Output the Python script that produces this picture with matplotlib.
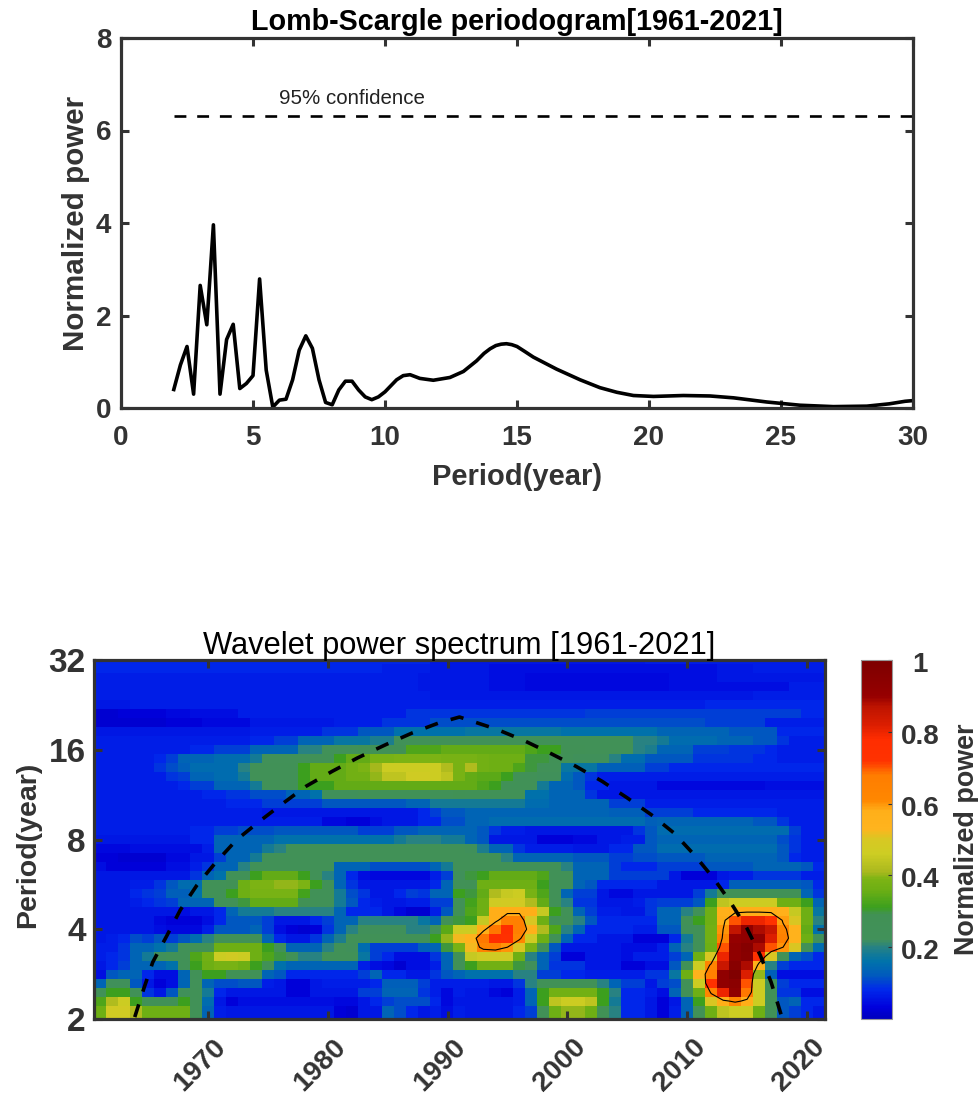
import numpy as np
import matplotlib
matplotlib.use('Agg')
import matplotlib.pyplot as plt
from matplotlib.colors import LinearSegmentedColormap
from matplotlib.transforms import ScaledTranslation

plt.rcParams['font.family'] = ['Liberation Sans', 'DejaVu Sans']

# Lomb-Scargle periodogram
ls_period = [2.0, 2.25, 2.5, 2.75, 3.0, 3.25, 3.5, 3.75, 4.0, 4.25, 4.5, 4.75, 5.0, 5.25, 5.5, 5.75, 6.0, 6.25,
             6.5, 6.75, 7.0, 7.25, 7.5, 7.75, 8.0, 8.25, 8.5, 8.75, 9.0, 9.25, 9.5, 9.75, 10.0, 10.44, 10.69, 10.95,
             11.32, 11.83, 12.46, 12.97, 13.47, 13.75, 13.98, 14.2, 14.4, 14.6, 14.8, 15.0, 15.3, 15.62, 16.5, 17.39,
             18.14, 18.78, 19.41, 20.17, 21.3, 22.31, 23.2, 24.46, 25.72, 26.98, 28.25, 29.1, 29.7, 30.0]
ls_power = [0.40, 0.93, 1.33, 0.30, 2.65, 1.80, 3.96, 0.30, 1.48, 1.81, 0.42, 0.53, 0.70, 2.79, 0.82, 0.02, 0.17, 0.19,
            0.61, 1.25, 1.56, 1.29, 0.61, 0.12, 0.07, 0.39, 0.58, 0.58, 0.39, 0.24, 0.18, 0.24, 0.35, 0.61, 0.70, 0.72,
            0.64, 0.60, 0.66, 0.79, 1.02, 1.18, 1.28, 1.35, 1.38, 1.39, 1.37, 1.33, 1.22, 1.10, 0.84, 0.61,
            0.44, 0.34, 0.27, 0.25, 0.27, 0.26, 0.22, 0.13, 0.06, 0.03, 0.04, 0.09, 0.145, 0.16]
conf_period = [2, 30]
conf_power = [6.32, 6.32]

# cone of influence
coi_year = [1963.9, 1964.6, 1965.4, 1966.6, 1967.7, 1969.1, 1970.6, 1972.4, 1974.3, 1976.3, 1978.2, 1980.4, 1982.5,
            1984.9, 1987.1, 1989.3, 1991.0, 1994.1, 1996.3, 1998.5, 2000.7, 2002.9, 2005.0, 2007.0, 2008.9, 2010.6,
            2012.2, 2013.6, 2015.0, 2016.1, 2017.0, 2017.9]
coi_period = [2.03, 2.49, 3.10, 3.82, 4.64, 5.63, 6.66, 7.98, 9.20, 10.6, 12.07, 13.56, 15.03,
              16.68, 18.25, 19.7, 20.6, 18.74, 17.24, 15.63, 14.09, 12.54, 11.03, 9.69, 8.41, 7.10,
              5.93, 4.94, 4.02, 3.27, 2.66, 2.03]

# wavelet power x100, one row per scale from period 32 down to 2, one column per year 1961-2021
wavelet = [
    [8,8,8,8,8,8,8,8,8,8, 8,8,8,8,8,8,8,8,8,8, 8,8,8,8,8,8,8,8,6,6, 6,6,6,6,6,6,6,6,6,6, 6,6,6,6,6,6,7,7,7,7, 7,7,7,7,7,7,7,7,7,7,7],
    [8,8,8,8,8,8,8,8,8,8, 8,8,8,8,8,8,8,8,8,8, 8,8,8,8,7,7,7,7,6,6, 6,6,6,5,5,5,5,5,5,5, 5,5,5,5,5,5,5,5,5,5, 5,5,6,6,6,7,7,7,7,7,7],
    [7,7,7,7,7,7,7,7,7,7, 7,7,7,7,7,7,7,7,7,7, 7,7,7,7,7,7,7,6,6,6, 6,6,6,5,5,5,4,4,4,4, 4,4,4,4,4,4,4,4,5,5, 5,5,6,6,6,6,6,6,6,6,6],
    [7,7,7,7,7,7,7,7,7,7, 7,7,7,7,7,7,7,7,7,7, 7,7,7,7,7,7,7,6,6,6, 6,6,6,5,5,5,4,4,4,4, 4,4,4,4,4,4,4,4,5,5, 5,5,5,5,5,5,5,5,7,7,7],
    [7,7,7,7,7,7,7,7,7,7, 7,7,7,7,7,7,7,7,7,7, 7,7,7,7,7,7,7,7,6,6, 6,6,6,6,6,6,6,6,6,6, 6,6,6,6,6,6,6,6,6,6, 6,6,6,6,6,7,7,7,7,7,7],
    [6,6,6,7,7,7,7,7,7,7, 7,7,7,7,7,7,7,7,7,7, 7,7,7,7,7,7,7,7,7,7, 7,7,7,7,7,7,7,7,7,7, 7,7,7,7,7,7,7,7,7,7, 7,8,8,8,8,8,8,8,8,8,8],
    [2,2,3,3,3,3,4,4,5,5, 5,5,7,7,7,7,7,7,7,7, 7,7,7,7,7,7,9,9,9,9, 9,9,9,9,9,9,9,9,9,9, 9,10,10,10,10,10,10,10,10,10, 10,10,10,10,10,10,10,10,10,8,8],
    [2,2,2,2,2,2,3,3,3,4, 4,4,4,6,6,6,6,6,6,6, 7,7,7,7,9,9,9,9,11,11, 11,11,11,11,11,11,11,11,11,11, 11,11,11,11,11,11,11,11,11,11, 11,10,10,10,10,10,7,7,7,7,7],
    [6,6,6,6,6,6,6,6,6,6, 6,6,6,7,7,7,7,7,7,9, 9,9,12,12,12,16,16,16,16,16, 16,17,17,17,17,17,17,17,17,16, 16,16,16,16,16,16,16,14,14,14, 14,14,14,12,12,12,12,8,8,8,8],
    [7,7,7,7,7,7,7,7,7,7, 7,7,7,8,8,10,10,14,14,14, 17,17,17,19,19,24,24,24,25,25, 25,25,25,25,25,25,25,25,25,25, 25,25,25,25,25,20,20,18,15,15, 15,15,14,14,14,12,12,9,7,7,7],
    [7,7,7,7,7,7,7,7,8,8, 10,10,10,14,14,14,14,20,20,24, 24,24,27,27,27,28,33,33,33,35, 35,35,35,35,35,35,33,31,31,27, 27,25,25,25,25,20,19,14,14,14, 10,10,10,9,9,9,8,7,7,7,7],
    [7,7,7,7,7,8,10,14,14,14, 15,15,15,18,24,24,24,24,25,25, 31,35,35,38,38,39,39,39,39,38, 38,38,37,36,36,36,30,30,25,25, 22,22,22,20,15,15,12,12,12,12, 9,9,9,9,9,8,8,7,7,7,7],
    [7,7,7,7,7,9,11,13,15,15, 15,15,20,25,25,25,25,31,35,35, 35,37,39,41,46,46,46,46,46,42, 38,42,37,36,36,33,30,24,24,17, 17,17,13,13,13,13,10,10,8,8, 8,8,8,8,8,8,8,8,8,8,8],
    [7,7,7,7,7,7,9,10,14,14, 15,15,18,25,25,25,25,31,35,35, 35,37,37,40,44,44,47,47,46,44, 38,35,34,34,31,25,25,22,22,15, 12,9,7,7,7,7,7,7,7,7, 7,7,7,7,7,7,7,7,7,7,7],
    [7,7,7,7,7,7,7,8,10,10, 14,14,14,18,25,25,25,31,31,31, 35,35,35,35,35,35,35,35,35,35, 35,35,33,31,25,25,25,18,14,14, 12,8,8,6,6,6,6,4,4,4, 4,4,4,4,4,4,5,5,5,5,5],
    [7,7,7,7,7,7,7,7,7,8, 8,9,9,11,11,11,14,14,16,22, 22,22,25,25,25,25,25,25,25,25, 28,27,27,25,25,25,16,16,14,14, 14,9,6,6,6,6,6,6,6,6, 6,6,6,6,6,6,6,6,6,6,6],
    [7,7,7,7,7,7,7,7,7,7, 7,8,8,8,10,10,10,10,10,12, 12,12,12,12,12,12,14,14,18,18, 18,18,18,18,18,18,15,15,14,14, 14,14,14,10,10,10,7,7,7,7, 7,7,7,7,7,7,7,7,7,7,7],
    [7,7,7,7,7,7,7,7,7,7, 7,7,7,7,6,6,6,6,6,6, 6,6,6,6,6,6,6,8,10,12, 12,14,14,14,14,14,14,14,14,14, 14,14,14,13,13,13,10,10,10,10, 8,8,8,8,8,8,8,7,7,7,7],
    [7,7,7,7,7,7,7,7,7,7, 7,7,7,7,7,7,7,7,7,4, 4,3,3,5,6,6,6,8,8,11, 11,14,14,15,15,15,15,15,15,15, 15,15,15,15,15,15,13,14,14,14, 14,14,14,14,14,12,12,9,7,7,7],
    [7,7,7,7,7,7,7,7,8,8, 10,10,11,11,11,12,12,12,12,12, 12,12,10,10,10,12,12,14,14,14, 14,14,12,9,7,7,6,6,6,6, 6,6,6,6,6,9,12,15,15,15, 15,15,15,15,15,15,15,15,10,7,7],
    [6,6,6,6,6,6,6,6,8,8, 14,14,14,14,14,16,16,16,16,16, 16,16,16,16,16,18,20,20,20,18, 18,14,12,6,6,6,6,3,3,3, 4,4,6,6,7,7,12,14,14,14, 14,14,14,14,14,14,14,11,9,7,7],
    [4,4,4,5,5,5,5,5,5,7, 14,14,14,14,18,20,25,25,25,25, 25,25,25,25,25,25,25,25,25,25, 25,22,19,14,14,9,7,7,7,7, 6,6,6,8,8,12,12,15,15,15, 15,15,15,15,15,15,15,12,9,7,7],
    [3,3,2,2,2,2,4,4,6,6, 10,14,14,18,25,25,25,25,25,25, 25,25,25,25,25,25,25,25,25,25, 25,25,25,25,20,14,14,14,14,14, 12,12,12,10,10,11,11,12,12,12, 12,14,14,14,14,14,14,12,8,7,7],
    [5,3,3,3,3,3,5,5,7,9, 14,14,20,25,25,25,25,25,25,25, 14,14,14,11,11,11,11,11,14,18, 25,25,25,25,25,25,25,25,25,20, 14,14,14,10,8,8,8,10,10,10, 10,12,12,12,12,14,14,14,14,12,8],
    [6,6,6,6,6,6,6,6,9,14, 16,25,25,31,35,35,35,31,25,20, 14,8,5,4,4,4,4,4,7,10, 22,30,31,35,35,35,35,33,25,25, 14,14,14,10,10,10,10,10,6,3, 3,3,6,7,7,9,9,9,9,7,7],
    [6,6,6,7,7,9,12,15,15,25, 25,28,36,39,39,40,40,39,31,25, 14,9,6,6,6,6,6,6,8,14, 25,27,36,36,36,36,36,31,25,25, 14,12,8,8,8,8,8,6,6,6, 6,6,8,13,13,13,13,13,13,12,8],
    [6,6,6,8,9,10,13,13,16,25, 25,31,36,38,38,38,38,32,25,25, 18,11,9,6,6,8,10,9,14,14, 31,30,35,42,45,46,38,33,25,14, 10,10,6,4,4,6,6,6,6,6, 10,18,25,25,25,25,25,25,25,14,9],
    [6,6,6,7,8,9,10,14,14,14, 25,25,30,35,35,35,35,28,25,25, 18,12,8,7,6,6,7,7,10,10, 25,32,36,47,48,48,42,35,25,20, 9,9,6,6,6,7,9,10,10,10, 12,31,44,46,46,46,46,36,36,31,14],
    [6,6,6,6,6,6,6,5,6,6, 8,14,18,18,18,20,20,20,20,20, 14,8,8,8,6,4,2,2,7,12, 28,33,36,58,58,58,58,45,31,25, 14,10,7,7,6,6,9,14,14,20, 25,36,56,58,58,58,58,56,45,36,17],
    [6,6,6,6,6,4,3,3,3,5, 8,12,12,12,10,6,6,6,8,10, 14,14,20,20,20,20,20,17,14,25, 30,31,45,58,66,66,50,36,27,27, 20,12,8,8,8,8,8,14,14,25, 31,36,58,70,80,80,72,59,50,36,20],
    [6,6,6,6,6,5,4,4,4,7, 12,12,12,14,10,5,3,2,3,9, 14,20,22,22,22,22,20,20,25,34, 46,46,58,68,76,66,56,42,33,20, 14,8,8,8,8,7,7,12,12,22, 25,37,60,86,92,88,85,62,55,35,16],
    [6,7,8,11,10,12,10,12,15,20, 25,25,25,25,14,8,6,6,9,14, 19,25,25,25,25,25,25,25,31,40, 52,55,68,76,74,62,47,36,25,14, 8,8,6,6,6,3,3,3,8,18, 25,37,62,90,92,92,82,65,54,36,22],
    [7,7,9,14,14,16,18,25,27,27, 36,36,36,36,31,25,14,14,14,20, 25,22,15,10,10,10,10,13,14,30, 38,52,64,66,60,50,38,25,12,6, 6,6,6,6,5,5,5,7,14,20, 25,36,70,92,96,88,70,60,50,25,15],
    [7,8,9,14,18,22,25,25,33,37, 46,48,46,36,33,30,25,20,20,25, 25,25,17,10,8,5,5,5,9,14, 25,45,47,47,47,36,20,14,10,3, 3,6,6,6,5,7,7,7,10,14, 36,50,80,92,95,72,50,25,14,11,8],
    [6,8,10,14,14,14,16,25,31,36, 38,38,36,31,25,16,14,14,14,14, 14,14,7,5,4,2,5,5,7,14, 25,31,37,37,37,30,22,14,9,9, 9,6,6,6,3,3,5,5,12,27, 46,62,85,95,88,56,20,10,8,8,8],
    [5,12,14,14,8,5,5,14,25,31, 31,28,28,25,14,12,8,8,8,8, 8,8,10,14,8,8,6,6,9,12, 14,16,16,16,16,20,20,10,10,8, 8,7,7,7,7,7,9,9,17,36, 54,66,92,98,82,40,13,5,5,5,5],
    [14,22,22,12,6,3,5,14,24,14, 11,11,12,12,7,6,3,3,6,7, 7,7,7,8,13,13,13,10,7,7, 7,7,7,6,6,9,20,25,25,25, 25,25,20,14,10,10,6,10,11,25, 46,72,92,94,70,46,25,10,8,8,8],
    [25,31,31,25,9,6,12,22,25,18, 8,6,6,6,6,6,3,3,6,6, 6,6,10,10,14,14,14,9,7,4, 7,6,6,4,3,7,14,31,37,37, 37,37,31,20,8,8,7,5,14,25, 36,62,80,92,68,46,25,9,9,5,5],
    [33,42,46,31,25,27,27,31,25,15, 6,3,5,5,5,5,5,5,5,5, 4,4,6,8,10,11,11,11,8,4, 6,6,6,6,6,7,14,31,44,46, 46,44,31,18,8,8,6,3,6,14, 31,50,58,62,58,46,25,12,14,8,8],
    [36,48,48,42,36,36,36,36,25,14, 7,6,6,6,6,6,6,6,6,6, 3,2,6,6,14,11,8,6,7,5, 7,6,6,6,6,8,10,25,36,40, 40,36,27,20,8,8,6,3,7,14, 25,36,44,46,46,36,25,12,10,8,6],
    [36,48,48,42,36,36,36,36,25,14, 7,6,6,6,6,6,6,6,6,6, 3,2,6,6,14,11,8,6,7,5, 7,6,6,6,6,8,10,25,36,40, 40,36,27,20,8,8,6,3,7,14, 25,36,44,46,46,36,25,12,10,8,6],
]

cbar_ticks = [0.2, 0.4, 0.6, 0.8, 1]
cbar_ticklabels = ['0.2', '0.4', '0.6', '0.8', '1']
year_ticks = [1970, 1980, 1990, 2000, 2010, 2020]
period_ticks = [2, 4, 8, 16, 32]

cmap_stops = [(0.00, (0, 0, 190)), (0.03, (0, 0, 220)), (0.08, (0, 40, 235)), (0.12, (0, 90, 190)),
              (0.16, (0, 115, 170)), (0.20, (40, 130, 130)), (0.22, (65, 145, 90)), (0.29, (65, 145, 85)),
              (0.31, (60, 160, 30)), (0.36, (110, 175, 20)), (0.39, (125, 180, 20)), (0.41, (170, 185, 30)),
              (0.46, (205, 205, 35)), (0.50, (215, 200, 35)), (0.53, (255, 180, 30)), (0.58, (255, 175, 25)),
              (0.61, (255, 135, 0)), (0.68, (255, 125, 0)), (0.72, (255, 50, 0)), (0.78, (255, 45, 0)),
              (0.82, (220, 30, 0)), (0.87, (190, 20, 0)), (0.90, (150, 0, 0)), (1.00, (125, 0, 0))]
cmap = LinearSegmentedColormap.from_list('wave', [(v, tuple(c / 255 for c in rgb)) for v, rgb in cmap_stops], N=256)

W, H = 979, 1099
dark = '#333333'


def px_axes(fig, left, right, top, bottom):
    return fig.add_axes([left / W, 1 - bottom / H, (right - left) / W, (bottom - top) / H])


def style_box(ax, size, xpad, ypad):
    for s in ax.spines.values():
        s.set_linewidth(2.3)
        s.set_color(dark)
    ax.tick_params(direction='in', length=6, width=2.2, color=dark, top=True, right=True,
                   labelsize=size, labelcolor=dark)
    ax.tick_params(axis='x', pad=xpad)
    ax.tick_params(axis='y', pad=ypad)
    for lab in ax.get_xticklabels() + ax.get_yticklabels():
        lab.set_fontweight('bold')


fig = plt.figure(figsize=(W / 100, H / 100), dpi=100)

ax1 = px_axes(fig, 121, 913, 38, 408)
ax1.plot(ls_period, ls_power, color='black', linewidth=2.6)
ax1.plot(conf_period, conf_power, color='black', linewidth=1.9, linestyle=(0, (4.5, 4.1)))
ax1.text(5.98, 6.7, '95% confidence', fontsize=14.8, color='#222222', va='center', ha='left')
ax1.set_xlim(0, 30)
ax1.set_ylim(0, 8)
ax1.set_xticks([0, 5, 10, 15, 20, 25, 30])
ax1.set_yticks([0, 2, 4, 6, 8])
style_box(ax1, 20, 12, 7)
ax1.set_xlabel('Period(year)', fontsize=21, fontweight='bold', color=dark)
ax1.xaxis.set_label_coords(0.5, -0.149)
ax1.set_ylabel('Normalized power', fontsize=21.3, fontweight='bold', color=dark)
ax1.yaxis.set_label_coords(-0.039, 0.5)
ax1.set_title('Lomb-Scargle periodogram[1961-2021]', fontsize=20.7, fontweight='bold', pad=5.5)

ax2 = px_axes(fig, 94, 825, 660, 1019)
im = ax2.imshow(np.array(wavelet) / 100, cmap=cmap, vmin=0, vmax=1, aspect='auto',
                extent=[1960.5, 2021.5, 0.95, 5.05], interpolation='nearest')
years = np.arange(1961, 2022)
scales = np.linspace(5, 1, 41)
ax2.contour(years, scales, np.array(wavelet) / 100, levels=[0.60], colors='black', linewidths=0.8)
ax2.plot(coi_year, np.log2(coi_period), color='black', linewidth=2.6, linestyle=(0, (3.7, 3.7)))
ax2.set_xlim(1960.5, 2021.5)
ax2.set_ylim(1, 5)
ax2.set_xticks(year_ticks)
ax2.set_yticks(np.log2(period_ticks))
ax2.set_yticklabels([str(p) for p in period_ticks])
style_box(ax2, 24, 5, 6)
offset = ScaledTranslation(0.05, -0.08, fig.dpi_scale_trans)
for lab in ax2.get_xticklabels():
    lab.set_rotation(45)
    lab.set_ha('right')
    lab.set_rotation_mode('anchor')
    lab.set_fontsize(20)
    lab.set_transform(lab.get_transform() + offset)
ax2.set_ylabel('Period(year)', fontsize=20.5, fontweight='bold', color=dark)
ax2.yaxis.set_label_coords(-0.0725, 0.486)
ax2.set_title('Wavelet power spectrum [1961-2021]', fontsize=22.2, pad=4.5)

cax = px_axes(fig, 861, 892, 660, 1019)
cb = fig.colorbar(im, cax=cax)
cb.set_ticks(cbar_ticks)
cb.set_ticklabels(cbar_ticklabels)
cb.outline.set_edgecolor('#999999')
cb.outline.set_linewidth(0.8)
cb.ax.tick_params(direction='in', length=3, width=0.8, color=dark, labelsize=20, labelcolor=dark, pad=20)
label_shift = ScaledTranslation(0, -0.02, fig.dpi_scale_trans)
for lab in cb.ax.get_yticklabels():
    lab.set_fontweight('bold')
    lab.set_ha('center')
    lab.set_transform(lab.get_transform() + label_shift)
cb.set_label('Normalized power', fontsize=19.4, fontweight='bold', color=dark)
cb.ax.yaxis.set_label_coords(3.0, 0.5)

fig.savefig('out.png', dpi=100)
